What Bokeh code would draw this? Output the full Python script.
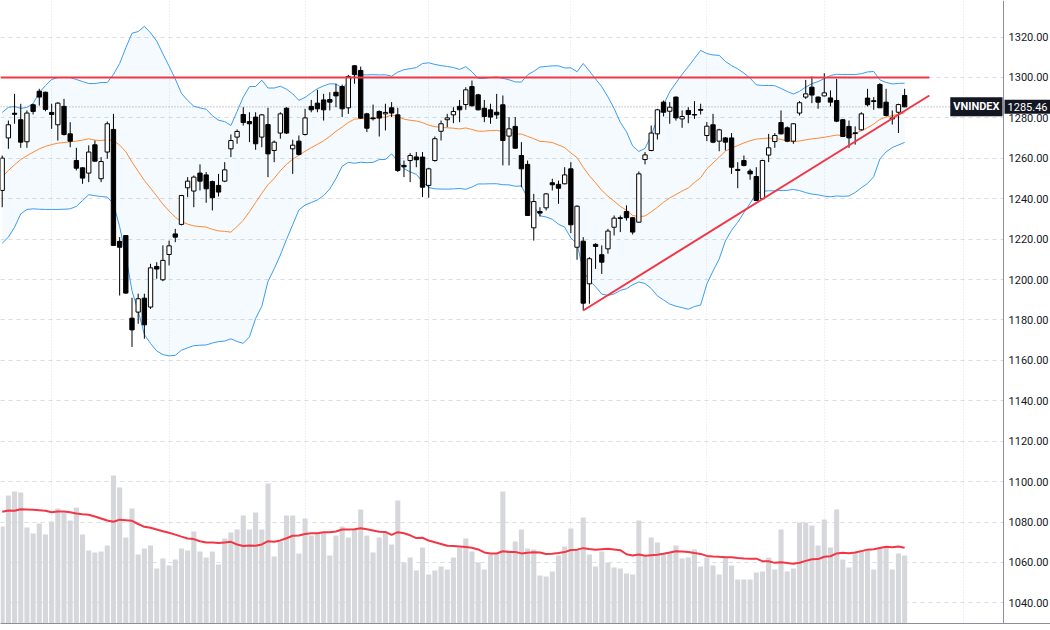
import numpy as np
from bokeh.plotting import figure
from bokeh.models import (Range1d, FixedTicker, PrintfTickFormatter, Label, BoxAnnotation,
                          ColumnDataSource)
from bokeh.embed import file_html
from bokeh.resources import INLINE

# ---------------- data ----------------
opens = [1244.1, 1270.1, 1282.3, 1279.1, 1268.2, 1286.5, 1293.2, 1292.7, 1282.7, 1276.6,
         1285.7, 1272.1, 1258.9, 1255.3, 1252.7, 1266.7, 1249.9, 1263.1, 1274.3, 1218.9,
         1221.8, 1180.9, 1183.9, 1190.8, 1186.4, 1206.5, 1199.9, 1212.4, 1222.6, 1227.3,
         1245.4, 1243.8, 1252.7, 1251.8, 1248.5, 1246.6, 1248.7, 1264.7, 1270.5, 1281.7,
         1278.2, 1280.4, 1270.5, 1276.7, 1263.9, 1272.5, 1284.8, 1264.7, 1268.5, 1271.8,
         1285.7, 1287.3, 1288.9, 1289.1, 1292.7, 1295.5, 1285.0, 1305.8, 1303.5, 1282.0,
         1280.0, 1283.2, 1282.0, 1285.0, 1281.5, 1256.5, 1258.9, 1260.7, 1260.6, 1246.6,
         1258.9, 1273.4, 1279.1, 1281.5, 1285.7, 1286.6, 1295.5, 1291.4, 1284.8, 1284.0,
         1282.8, 1286.5, 1271.0, 1275.8, 1261.4, 1257.0, 1225.6, 1233.7, 1235.5, 1247.9,
         1247.1, 1247.4, 1254.8, 1216.0, 1219.0, 1197.9, 1217.4, 1212.3, 1215.2, 1225.9,
         1230.6, 1233.7, 1230.6, 1228.4, 1259.4, 1263.9, 1272.1, 1287.8, 1283.3, 1290.3,
         1279.5, 1283.7, 1281.7, 1284.2, 1271.3, 1276.6, 1268.5, 1270.1, 1270.1, 1254.5,
         1258.9, 1253.7, 1251.0, 1240.0, 1261.6, 1268.3, 1277.7, 1275.1, 1268.5, 1282.4,
         1290.3, 1295.2, 1290.3, 1290.9, 1289.9, 1288.6, 1279.1, 1275.8, 1272.6, 1274.1,
         1289.8, 1288.5, 1296.5, 1287.8, 1279.9, 1282.8, 1291.1]
highs = [1261.4, 1278.7, 1291.9, 1287.0, 1283.7, 1287.0, 1294.4, 1293.0, 1287.0, 1287.8,
         1289.4, 1277.9, 1265.2, 1255.5, 1266.4, 1268.8, 1260.6, 1278.2, 1282.0, 1221.0,
         1222.0, 1191.0, 1193.0, 1193.0, 1207.8, 1208.6, 1216.9, 1219.3, 1225.1, 1241.9,
         1250.7, 1251.5, 1257.0, 1253.2, 1249.0, 1252.3, 1258.1, 1271.8, 1274.3, 1285.3,
         1282.8, 1282.8, 1282.0, 1285.0, 1268.8, 1282.8, 1285.3, 1269.2, 1271.3, 1284.5,
         1288.9, 1293.9, 1291.9, 1292.7, 1296.9, 1296.5, 1301.3, 1306.1, 1305.4, 1282.5,
         1286.6, 1283.7, 1287.0, 1287.8, 1285.0, 1258.9, 1262.6, 1263.1, 1263.1, 1255.3,
         1270.8, 1278.7, 1282.0, 1285.3, 1288.9, 1295.2, 1298.5, 1291.9, 1288.9, 1287.0,
         1291.9, 1291.1, 1280.4, 1280.4, 1268.0, 1258.9, 1242.4, 1235.8, 1242.8, 1249.9,
         1249.0, 1255.6, 1258.1, 1236.7, 1221.0, 1211.1, 1218.0, 1216.9, 1225.1, 1231.7,
         1231.7, 1236.7, 1231.0, 1253.5, 1263.1, 1276.2, 1284.5, 1288.6, 1287.8, 1290.6,
         1283.7, 1285.3, 1288.3, 1287.0, 1277.9, 1282.0, 1274.6, 1270.5, 1272.5, 1258.1,
         1261.4, 1254.8, 1255.6, 1259.3, 1272.1, 1272.5, 1283.7, 1275.8, 1277.4, 1288.3,
         1298.8, 1300.5, 1290.6, 1302.1, 1293.6, 1299.3, 1279.5, 1278.7, 1275.8, 1282.8,
         1294.4, 1290.3, 1297.2, 1294.4, 1283.7, 1287.0, 1294.4]
lows = [1235.8, 1264.7, 1277.1, 1265.2, 1265.2, 1281.7, 1286.1, 1283.3, 1274.6, 1268.8,
        1271.3, 1265.5, 1254.0, 1247.4, 1248.2, 1258.4, 1248.2, 1259.8, 1216.7, 1192.1,
        1193.0, 1166.6, 1178.1, 1170.7, 1185.5, 1200.4, 1199.2, 1207.0, 1218.5, 1226.8,
        1240.8, 1235.8, 1244.1, 1238.0, 1234.2, 1241.1, 1248.2, 1260.6, 1267.2, 1276.2,
        1268.0, 1264.2, 1265.5, 1250.7, 1258.1, 1269.7, 1272.1, 1252.3, 1261.4, 1271.3,
        1282.8, 1282.8, 1278.7, 1283.7, 1285.3, 1280.4, 1282.0, 1296.9, 1279.5, 1273.0,
        1278.7, 1270.8, 1273.8, 1280.4, 1253.2, 1250.7, 1248.2, 1255.6, 1240.8, 1240.5,
        1258.4, 1268.8, 1275.4, 1277.4, 1277.9, 1284.0, 1285.7, 1283.7, 1277.9, 1277.1,
        1279.5, 1256.5, 1256.5, 1264.7, 1245.7, 1231.5, 1219.3, 1231.2, 1234.2, 1244.1,
        1237.5, 1247.1, 1223.0, 1209.8, 1184.7, 1188.0, 1205.3, 1202.8, 1212.8, 1221.8,
        1223.5, 1229.2, 1222.3, 1228.1, 1257.0, 1263.5, 1269.3, 1280.7, 1277.1, 1278.7,
        1275.1, 1277.4, 1279.5, 1281.7, 1268.5, 1267.5, 1263.5, 1263.9, 1252.3, 1245.2,
        1256.0, 1249.4, 1238.9, 1239.5, 1258.1, 1265.2, 1271.8, 1268.0, 1267.2, 1281.2,
        1289.4, 1287.3, 1284.5, 1290.6, 1285.7, 1277.9, 1270.5, 1265.2, 1266.8, 1273.8,
        1285.7, 1284.0, 1285.7, 1280.7, 1276.7, 1272.5, 1285.3]
closes = [1260.1, 1276.6, 1281.8, 1268.0, 1282.4, 1283.2, 1290.3, 1284.2, 1281.7, 1287.3,
          1271.8, 1268.5, 1255.1, 1250.2, 1263.1, 1258.6, 1258.4, 1277.1, 1216.9, 1216.0,
          1193.3, 1175.1, 1190.5, 1177.6, 1205.8, 1205.2, 1209.5, 1216.7, 1221.0, 1241.6,
          1248.7, 1250.7, 1248.7, 1244.9, 1240.5, 1243.3, 1254.3, 1268.8, 1273.3, 1277.7,
          1277.1, 1267.2, 1281.5, 1262.2, 1268.0, 1282.0, 1272.5, 1266.5, 1261.9, 1280.0,
          1284.0, 1284.5, 1284.0, 1287.8, 1290.9, 1284.5, 1300.5, 1301.5, 1279.9, 1274.9,
          1279.6, 1279.9, 1282.7, 1282.4, 1254.0, 1255.8, 1261.4, 1259.3, 1245.7, 1254.8,
          1269.7, 1277.1, 1280.0, 1283.2, 1284.0, 1293.9, 1286.0, 1284.0, 1280.7, 1280.4,
          1281.5, 1268.8, 1274.6, 1265.0, 1254.8, 1231.7, 1238.6, 1232.9, 1242.4, 1246.9,
          1245.2, 1251.8, 1227.1, 1236.3, 1188.3, 1210.3, 1216.4, 1208.6, 1224.0, 1230.4,
          1230.2, 1230.6, 1223.5, 1252.3, 1261.7, 1272.5, 1284.0, 1282.8, 1285.3, 1280.0,
          1280.7, 1281.7, 1281.4, 1283.8, 1275.9, 1268.0, 1274.1, 1268.0, 1255.6, 1254.0,
          1256.5, 1252.3, 1239.1, 1258.9, 1265.2, 1271.3, 1272.1, 1268.5, 1277.1, 1287.5,
          1291.9, 1291.3, 1287.8, 1292.4, 1287.8, 1278.4, 1270.8, 1270.1, 1272.3, 1282.0,
          1286.5, 1288.1, 1285.0, 1281.2, 1279.5, 1286.6, 1285.46]
volume = [97, 128, 132, 131, 96, 90, 100, 89, 102, 115, 111, 103, 116, 89, 73, 71, 72, 78, 148, 136,
          86, 115, 69, 75, 78, 55, 65, 58, 64, 75, 73, 92, 72, 66, 72, 59, 85, 91, 94, 108,
          94, 111, 94, 140, 67, 82, 108, 108, 70, 105, 88, 90, 91, 68, 88, 97, 86, 94, 114, 88,
          71, 86, 91, 79, 123, 61, 66, 53, 76, 49, 53, 57, 54, 66, 76, 85, 72, 61, 54, 69,
          69, 132, 73, 82, 94, 75, 74, 48, 47, 52, 68, 77, 95, 74, 106, 69, 57, 72, 61, 56,
          55, 50, 49, 103, 67, 86, 81, 69, 71, 78, 65, 66, 74, 57, 66, 58, 49, 66, 58, 44,
          44, 44, 51, 52, 66, 54, 94, 52, 55, 101, 101, 98, 78, 104, 76, 114, 64, 56, 71, 73,
          73, 54, 75, 76, 54, 70, 68]

# indicator values before a full 20-bar window is on screen
bb_upper_head = [1282.7, 1285.2, 1285.7, 1284.7, 1285.2, 1287.1, 1292.6, 1296.0, 1299.0, 1300.0,
                 1300.0, 1300.0, 1299.0, 1298.0, 1297.0, 1297.0, 1297.5, 1297.5, 1301.5]
bb_mid_head = [1250.7, 1254.0, 1256.8, 1259.4, 1261.3, 1263.0, 1264.7, 1265.9, 1266.8, 1267.5,
               1267.8, 1268.2, 1268.5, 1269.0, 1269.7, 1269.0, 1268.8, 1269.2, 1268.8]
bb_lower_head = [1218.0, 1221.0, 1225.9, 1232.5, 1234.7, 1235.0, 1234.8, 1234.7, 1234.7, 1234.7,
                 1234.8, 1235.0, 1236.2, 1239.1, 1242.0, 1241.5, 1241.1, 1240.8, 1237.5]
vol_ma_head = [111.7, 113.0, 112.7, 114.3, 114.0, 113.7, 113.3, 112.7, 111.3, 112.0,
               112.0, 111.3, 110.0, 109.3, 108.7, 107.0, 105.0, 103.0, 101.7]

price_ticks = [1040, 1060, 1080, 1100, 1120, 1140, 1160, 1180, 1200, 1220, 1240, 1260, 1280, 1300, 1320]
month_ticks = [8, 27, 49, 69, 92, 114, 133, 155.5]
resistance_level = 1300
resistance_end = 150
trend_x = [94, 150]
trend_y = [1184.7, 1291.1]
last_price = 1285.46
symbol = "VNINDEX"

# ---------------- derived series ----------------
n = len(closes)
idx = np.arange(n)
c = np.array(closes)
period = 20
bb_mid = list(bb_mid_head)
bb_up = list(bb_upper_head)
bb_lo = list(bb_lower_head)
vol_ma = list(vol_ma_head)
v = np.array(volume, dtype=float)
for i in range(period - 1, n):
    w = c[i - period + 1:i + 1]
    m, s = w.mean(), w.std()
    bb_mid.append(m)
    bb_up.append(m + 2 * s)
    bb_lo.append(m - 2 * s)
    vol_ma.append(v[i - period + 1:i + 1].mean())

o = np.array(opens)
up_mask = c >= o
src = ColumnDataSource(dict(
    x=idx, open=o, close=c, high=highs, low=lows,
    top=np.maximum(o, c), bottom=np.minimum(o, c),
    fill=np.where(up_mask, "#ffffff", "#000000"),
    vol=volume, vol_ma=vol_ma, up=bb_up, mid=bb_mid, lo=bb_lo))

# layout of the time scale (bar slots) and the price scale position
x0 = -0.275
x1 = 169.6
scale_x = 162.0      # where the price scale begins (in bar slots)

p = figure(width=1050, height=630, output_backend="svg", toolbar_location=None,
           x_range=Range1d(x0, x1), y_range=Range1d(1029.8, 1338.1),
           y_axis_location="right", min_border_left=0, min_border_top=0,
           min_border_bottom=7, min_border_right=0)
p.outline_line_color = None
p.background_fill_color = "#ffffff"
p.border_fill_color = "#ffffff"
p.extra_y_ranges = {"vol": Range1d(0, 623)}

# grids
p.ygrid.ticker = FixedTicker(ticks=price_ticks)
p.ygrid.grid_line_color = "#d9dce3"
p.ygrid.grid_line_dash = "4 4"
p.xgrid.ticker = FixedTicker(ticks=month_ticks)
p.xgrid.grid_line_color = "#e0e3eb"
p.xgrid.grid_line_dash = "1 2"

# price-scale background (hides grid under the scale)
p.add_layout(BoxAnnotation(left=scale_x, fill_color="#ffffff", fill_alpha=1.0,
                           line_color=None, level="underlay"))

# axes
ya = p.yaxis[0]
ya.fixed_location = scale_x
ya.ticker = FixedTicker(ticks=price_ticks)
ya.formatter = PrintfTickFormatter(format="%.2f")
ya.major_tick_out = 0
ya.major_tick_in = 0
ya.minor_tick_out = 0
ya.minor_tick_in = 0
ya.major_label_standoff = 5
ya.major_label_text_font = "Roboto"
ya.major_label_text_font_size = "11px"
ya.major_label_text_color = "#131722"
ya.axis_line_color = "#8c8f98"

xa = p.xaxis[0]
xa.ticker = FixedTicker(ticks=month_ticks)
xa.major_tick_out = 0
xa.major_tick_in = 0
xa.minor_tick_out = 0
xa.minor_tick_in = 0
xa.major_label_text_font_size = "1px"
xa.major_label_text_alpha = 0
xa.major_label_standoff = 0
xa.axis_line_color = "#8c8f98"

# volume
p.vbar(x="x", top="vol", bottom=0, width=0.82, source=src, y_range_name="vol",
       fill_color="#d6d7db", line_color=None)
p.line(x="x", y="vol_ma", source=src, y_range_name="vol", line_color="#f23645", line_width=2)

# bollinger bands
p.varea(x="x", y1="lo", y2="up", source=src, fill_color="#2196f3", fill_alpha=0.05)
p.line(x="x", y="up", source=src, line_color="#3d9cf0", line_width=1)
p.line(x="x", y="lo", source=src, line_color="#3d9cf0", line_width=1)
p.line(x="x", y="mid", source=src, line_color="#ff8a33", line_width=1)

# last price dotted line
p.line(x=[x0, scale_x], y=[last_price, last_price], line_color="#9598a1",
       line_dash="1 2", line_width=1)

# candles
p.segment(x0="x", y0="low", x1="x", y1="high", source=src, line_color="#000000", line_width=1)
p.vbar(x="x", top="top", bottom="bottom", width=0.7, source=src,
       fill_color="fill", line_color="#000000", line_width=1)

# drawings
p.line(x=[x0, resistance_end], y=[resistance_level, resistance_level],
       line_color="#f23645", line_width=2)
p.line(x=trend_x, y=trend_y, line_color="#f23645", line_width=2)

# last price tags
p.add_layout(Label(x=scale_x, y=last_price, text=symbol, text_align="right",
                   text_baseline="middle", x_offset=-1, text_color="#ffffff", text_font="Roboto",
                   text_font_style="bold", text_font_size="11px",
                   background_fill_color="#131722", padding=3))
p.add_layout(Label(x=scale_x, y=last_price, text="%.2f" % last_price, text_align="left",
                   text_baseline="middle", x_offset=1, text_color="#ffffff", text_font="Roboto",
                   text_font_size="11px", background_fill_color="#131722", padding=3))

open("out.html", "w").write(file_html(p, INLINE))
